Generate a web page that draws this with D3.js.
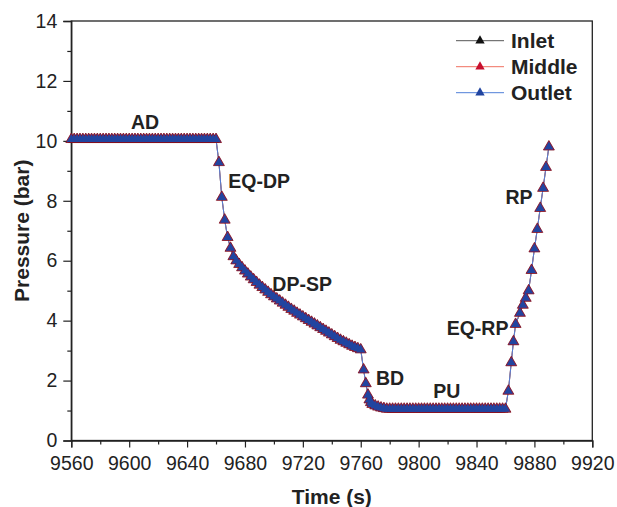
<!DOCTYPE html>
<html>
<head>
<meta charset="utf-8">
<script src="https://cdn.jsdelivr.net/npm/d3@7"></script>
<style>
  html, body { margin: 0; padding: 0; background: #fff; }
  svg { display: block; font-family: "Liberation Sans", Arial, Helvetica, sans-serif; }
</style>
</head>
<body>
<svg id="chart" width="617" height="507"></svg>
<script>
// Pressure history over one PSA cycle (time in s, pressure in bar)
const timeS = [
  9560, 9562, 9564, 9566, 9568, 9570, 9572, 9574, 9576, 9578,
  9580, 9582, 9584, 9586, 9588, 9590, 9592, 9594, 9596, 9598,
  9600, 9602, 9604, 9606, 9608, 9610, 9612, 9614, 9616, 9618,
  9620, 9622, 9624, 9626, 9628, 9630, 9632, 9634, 9636, 9638,
  9640, 9642, 9644, 9646, 9648, 9650, 9652, 9654, 9656, 9658, 9660,
  9662, 9664, 9666, 9668, 9670, 9672,
  9674, 9676, 9678, 9680, 9682, 9684, 9686, 9688, 9690, 9692,
  9694, 9696, 9698, 9700, 9702, 9704, 9706, 9708, 9710, 9712,
  9714, 9716, 9718, 9720, 9722, 9724, 9726, 9728, 9730, 9732,
  9734, 9736, 9738, 9740, 9742, 9744, 9746, 9748, 9750, 9752,
  9754, 9756, 9758, 9760,
  9762, 9763.5, 9765, 9766, 9767, 9768, 9770, 9772, 9774, 9776, 9778,
  9780, 9782, 9784, 9786, 9788, 9790, 9792, 9794, 9796, 9798,
  9800, 9802, 9804, 9806, 9808, 9810, 9812, 9814, 9816, 9818,
  9820, 9822, 9824, 9826, 9828, 9830, 9832, 9834, 9836, 9838,
  9840, 9842, 9844, 9846, 9848, 9850, 9852, 9854, 9856, 9858, 9860,
  9862, 9864, 9865.5, 9867, 9870, 9872, 9874, 9876,
  9878, 9880, 9882, 9884, 9886, 9888, 9890
];

const pressureBar = [
  10.05, 10.05, 10.05, 10.05, 10.05, 10.05, 10.05, 10.05, 10.05, 10.05,
  10.05, 10.05, 10.05, 10.05, 10.05, 10.05, 10.05, 10.05, 10.05, 10.05,
  10.05, 10.05, 10.05, 10.05, 10.05, 10.05, 10.05, 10.05, 10.05, 10.05,
  10.05, 10.05, 10.05, 10.05, 10.05, 10.05, 10.05, 10.05, 10.05, 10.05,
  10.05, 10.05, 10.05, 10.05, 10.05, 10.05, 10.05, 10.05, 10.05, 10.05, 10.05,
  9.28, 8.12, 7.36, 6.78, 6.42, 6.14,
  6.00, 5.88, 5.77, 5.66, 5.56, 5.46, 5.37, 5.28, 5.19, 5.11,
  5.03, 4.95, 4.87, 4.80, 4.73, 4.66, 4.59, 4.52, 4.45, 4.38,
  4.32, 4.25, 4.19, 4.13, 4.07, 4.01, 3.95, 3.89, 3.83, 3.77,
  3.71, 3.65, 3.59, 3.53, 3.47, 3.41, 3.35, 3.30, 3.25, 3.20,
  3.15, 3.11, 3.07, 3.03,
  2.36, 1.90, 1.52, 1.36, 1.27, 1.21, 1.16, 1.12, 1.09, 1.07, 1.05,
  1.05, 1.05, 1.05, 1.05, 1.05, 1.05, 1.05, 1.05, 1.05, 1.05,
  1.05, 1.05, 1.05, 1.05, 1.05, 1.05, 1.05, 1.05, 1.05, 1.05,
  1.05, 1.05, 1.05, 1.05, 1.05, 1.05, 1.05, 1.05, 1.05, 1.05,
  1.05, 1.05, 1.05, 1.05, 1.05, 1.05, 1.05, 1.05, 1.05, 1.05, 1.05,
  1.65, 2.60, 3.30, 3.88, 4.25, 4.52, 4.75, 5.00,
  5.68, 6.40, 7.05, 7.75, 8.42, 9.12, 9.80
];

// The three bed positions read the same pressure within plotting precision
const inletBar = pressureBar;
const middleBar = pressureBar;
const outletBar = pressureBar;

const seriesNames = ["Inlet", "Middle", "Outlet"];

// Step names placed next to the curve (time, pressure)
const stepLabels = ["AD", "EQ-DP", "DP-SP", "BD", "PU", "EQ-RP", "RP"];
const stepLabelTime = [9611, 9689.8, 9719.5, 9780.2, 9819.4, 9840.7, 9869.3];
const stepLabelPressure = [10.63, 8.67, 5.23, 2.10, 1.66, 3.75, 8.13];

const xTicks = [9560, 9600, 9640, 9680, 9720, 9760, 9800, 9840, 9880, 9920];
const yTicks = [0, 2, 4, 6, 8, 10, 12, 14];

const svg = d3.select("#chart");
const inkColor = "#222";

const x = d3.scaleLinear().domain([9560, 9920]).range([71.3, 592.3]);
const y = d3.scaleLinear().domain([0, 14]).range([440.5, 21]);

const series = [
  { name: seriesNames[0], values: inletBar, line: "#555", fill: "#111", stroke: "none", size: 40 },
  { name: seriesNames[1], values: middleBar, line: "#f07060", fill: "#c8102e", stroke: "#7a1020", size: 52 },
  { name: seriesNames[2], values: outletBar, line: "#4f7fd8", fill: "#2145a0", stroke: "none", size: 38 }
];

// Frame
svg.append("rect")
  .attr("x", x.range()[0]).attr("y", y.range()[1])
  .attr("width", x.range()[1] - x.range()[0])
  .attr("height", y.range()[0] - y.range()[1])
  .attr("fill", "none").attr("stroke", inkColor).attr("stroke-width", 1.3);

// Minor ticks
const xMinor = d3.range(9580, 9920, 40);
const yMinor = d3.range(1, 14, 2);
svg.append("g").attr("transform", `translate(0,${y.range()[0]})`)
  .call(d3.axisBottom(x).tickValues(xMinor).tickSize(4).tickFormat(""))
  .call(g => g.select(".domain").remove())
  .call(g => g.selectAll("line").attr("stroke", inkColor).attr("stroke-width", 1.2));
svg.append("g").attr("transform", `translate(${x.range()[0]},0)`)
  .call(d3.axisLeft(y).tickValues(yMinor).tickSize(4).tickFormat(""))
  .call(g => g.select(".domain").remove())
  .call(g => g.selectAll("line").attr("stroke", inkColor).attr("stroke-width", 1.2));

// Major axes
const xAxis = svg.append("g").attr("transform", `translate(0,${y.range()[0]})`)
  .call(d3.axisBottom(x).tickValues(xTicks).tickSize(7).tickPadding(9).tickFormat(d3.format("d")));
const yAxis = svg.append("g").attr("transform", `translate(${x.range()[0]},0)`)
  .call(d3.axisLeft(y).tickValues(yTicks).tickSize(8).tickPadding(6).tickFormat(d3.format("d")));
[xAxis, yAxis].forEach(g => {
  g.select(".domain").attr("stroke", inkColor).attr("stroke-width", 1.3);
  g.selectAll(".tick line").attr("stroke", inkColor).attr("stroke-width", 1.2);
  g.selectAll(".tick text")
    .attr("fill", inkColor)
    .style("font-family", "'Liberation Sans', Arial, sans-serif")
    .style("font-size", "19.5px");
});

// Axis titles
svg.append("text")
  .attr("x", (x.range()[0] + x.range()[1]) / 2).attr("y", 504)
  .attr("text-anchor", "middle")
  .attr("fill", inkColor)
  .style("font-size", "21px").style("font-weight", "bold")
  .text("Time (s)");
svg.append("text")
  .attr("transform", `translate(29,${(y.range()[0] + y.range()[1]) / 2}) rotate(-90)`)
  .attr("text-anchor", "middle")
  .attr("fill", inkColor)
  .style("font-size", "21px").style("font-weight", "bold")
  .text("Pressure (bar)");

// Lines and markers
const plot = svg.append("g");
series.forEach(s => {
  const pts = timeS.map((t, i) => [t, s.values[i]]);
  plot.append("path")
    .datum(pts)
    .attr("fill", "none")
    .attr("stroke", s.line)
    .attr("stroke-width", 1)
    .attr("d", d3.line().x(d => x(d[0])).y(d => y(d[1])));
});
series.forEach(s => {
  const pts = timeS.map((t, i) => [t, s.values[i]]);
  const sym = d3.symbol().type(d3.symbolTriangle).size(s.size);
  plot.append("g").selectAll("path")
    .data(pts)
    .join("path")
    .attr("transform", d => `translate(${x(d[0])},${y(d[1])})`)
    .attr("d", sym)
    .attr("fill", s.fill)
    .attr("stroke", s.stroke)
    .attr("stroke-width", 0.8);
});

// Step labels
svg.append("g").selectAll("text")
  .data(stepLabels)
  .join("text")
  .attr("x", (d, i) => x(stepLabelTime[i]))
  .attr("y", (d, i) => y(stepLabelPressure[i]))
  .attr("dy", "0.36em")
  .attr("text-anchor", "middle")
  .attr("fill", inkColor)
  .style("font-size", "19.5px").style("font-weight", "bold")
  .text(d => d);

// Legend
const legend = svg.append("g");
series.forEach((s, i) => {
  const cy = 40.7 + i * 26;
  legend.append("line")
    .attr("x1", 456).attr("x2", 504).attr("y1", cy).attr("y2", cy)
    .attr("stroke", s.line).attr("stroke-width", 1);
  legend.append("path")
    .attr("transform", `translate(480,${cy})`)
    .attr("d", d3.symbol().type(d3.symbolTriangle).size(38))
    .attr("fill", s.fill);
  legend.append("text")
    .attr("x", 511).attr("y", cy).attr("dy", "0.36em")
    .attr("fill", inkColor)
    .style("font-size", "21px").style("font-weight", "bold")
    .text(s.name);
});
</script>
</body>
</html>
